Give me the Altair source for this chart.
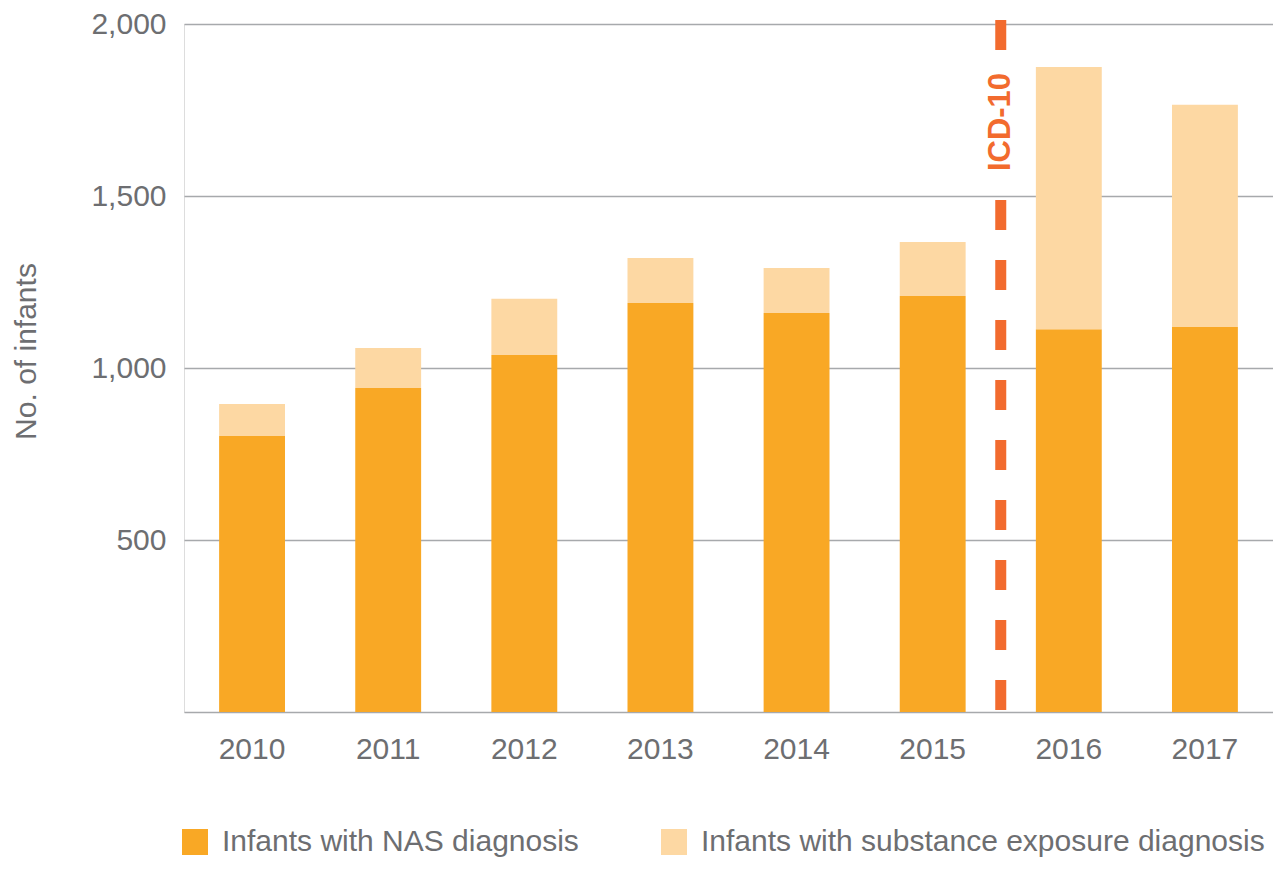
import altair as alt
import pandas as pd

# ---- data ----
years = ["2010", "2011", "2012", "2013", "2014", "2015", "2016", "2017"]
nas = [802, 942, 1038, 1189, 1160, 1209, 1113, 1119]
exposure = [93, 116, 163, 131, 131, 157, 762, 646]
series = ["Infants with NAS diagnosis", "Infants with substance exposure diagnosis"]
colors = ["#F9A825", "#FDD8A3"]
y_ticks = [500, 1000, 1500, 2000]
annotation = ["ICD-10"]

rows = []
for i, yr in enumerate(years):
    rows.append({"year": yr, "series": series[0], "value": nas[i], "order": 0})
    rows.append({"year": yr, "series": series[1], "value": exposure[i], "order": 1})
df = pd.DataFrame(rows)
ann = pd.DataFrame({"label": annotation})

# ---- layout ----
W, H = 1089, 688
TEXT = "#6D6E71"
GRID = "#A7A9AC"
ACCENT = "#F26B2E"
FONT = "Liberation Sans"

n = len(years)
p_in = 0.516
p_out = p_in / 2
step = W / (n - p_in + 2 * p_out)
start = p_out * step
x_div = start + 6 * step - p_in * step / 2

bars = alt.Chart(df).mark_bar().encode(
    x=alt.X(
        "year:N",
        sort=years,
        scale=alt.Scale(paddingInner=p_in, paddingOuter=p_out),
        axis=alt.Axis(
            title=None, labelAngle=0, labelFontSize=30, labelColor=TEXT, labelFont=FONT,
            labelPadding=22, ticks=False, domain=True, domainColor=GRID, domainWidth=1.5,
            grid=False,
        ),
    ),
    y=alt.Y(
        "value:Q",
        stack="zero",
        scale=alt.Scale(domain=[0, 2000], nice=False),
        axis=alt.Axis(
            values=y_ticks, format=",.0f", labelFontSize=30, labelColor=TEXT, labelFont=FONT,
            labelPadding=18, ticks=False, domain=False, grid=True, gridColor=GRID,
            gridWidth=1.5, title="No. of infants", titleFontSize=30, titleFont=FONT,
            titleFontWeight="normal", titleColor=TEXT, titleX=-158, titleY=327,
            titleAngle=270, titleAlign="center", titleBaseline="middle",
        ),
    ),
    color=alt.Color(
        "series:N",
        scale=alt.Scale(domain=series, range=colors),
        legend=alt.Legend(
            title=None, orient="none", legendX=-4, legendY=803, direction="horizontal",
            symbolType="square", symbolSize=676, symbolStrokeWidth=0,
            labelFontSize=30, labelColor=TEXT, labelFont=FONT, labelOffset=12,
            columnPadding=80, labelLimit=900,
        ),
    ),
    order=alt.Order("order:Q", sort="ascending"),
)

rule_top = alt.Chart(ann).mark_rule(
    color=ACCENT, strokeWidth=11, strokeDash=[30, 30], strokeCap="butt"
).encode(x=alt.value(x_div), y=alt.value(-4), y2=alt.value(26))

rule_bottom = alt.Chart(ann).mark_rule(
    color=ACCENT, strokeWidth=11, strokeDash=[30, 30], strokeCap="butt"
).encode(x=alt.value(x_div), y=alt.value(176), y2=alt.value(H))

label = alt.Chart(ann).mark_text(
    angle=270, font=FONT, fontSize=31, fontWeight="bold", color=ACCENT,
    align="center", baseline="middle",
).encode(text="label:N", x=alt.value(x_div), y=alt.value(98))

chart = (
    alt.layer(bars, rule_top, rule_bottom, label)
    .properties(
        width=W, height=H,
        autosize=alt.AutoSizeParams(type="none"),
        padding={"left": 176, "top": 16, "right": 0, "bottom": 150},
    )
    .configure_view(stroke=None)
    .configure(font=FONT)
)

chart.save("out.html", embed_options={"renderer": "svg", "actions": False})
